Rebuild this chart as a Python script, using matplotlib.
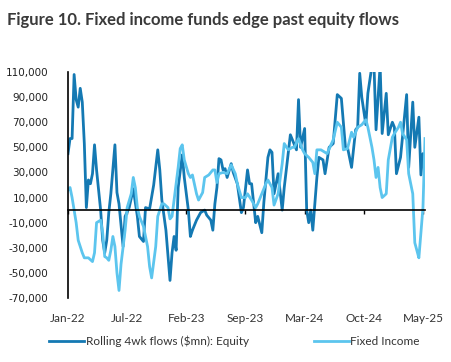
import matplotlib.pyplot as plt

# weekly fund flows, $mn (in thousands)
eq_weeks = [0, 1, 2, 3, 4, 5, 6, 7, 8, 9, 10, 11, 12, 13, 14, 16, 17, 18, 19, 20,
            21, 23, 24, 25, 27, 28, 30, 32, 34, 35, 37, 38, 40, 42, 43, 44, 45, 46, 48, 50,
            51, 52, 53, 54, 56, 57, 59, 60, 61, 63, 65, 66, 67, 68, 70, 71, 72, 73, 74, 75,
            76, 77, 78, 80, 81, 83, 85, 86, 88, 89, 90, 92, 93, 95, 96, 98, 99, 100, 101, 103,
            105, 106, 107, 109, 110, 112, 113, 114, 116, 117, 118, 119, 120, 122, 123, 125, 126, 128, 130, 132,
            134, 136, 137, 139, 141, 142, 143, 144, 146, 147, 149, 150, 151, 153, 154, 156, 157, 159, 160, 161,
            163, 166, 167, 169, 170, 172, 173, 174, 175]
equity_k = [45, 57, 57, 108, 88, 82, 97, 86, 53, 2, 24, 21, 29, 52, 32, 0, -24, -34, -24, -2,
            13, 52, 14, 5, -29, -5, 2, 17, -5, -21, -25, 2, 1, 20, 34, 48, 32, 8, -16, -56,
            -34, -21, -32, 18, 44, 26, 0, -21, -16, -8, -2, -1, 0, -4, -8, -16, 5, 18, 41, 40,
            32, 33, 26, 37, 30, 21, -2, 2, 32, 21, 21, -10, -5, -18, 6, 42, 48, 46, 13, 29,
            0, 18, 32, 60, 56, 48, 88, 50, 65, 0, -10, 0, -16, 26, 42, 40, 29, 50, 53, 92,
            89, 50, 50, 34, 64, 66, 109, 90, 68, 93, 115, 115, 64, 115, 61, 93, 60, 70, 66, 29,
            42, 92, 34, 86, 50, 74, 28, 45, 32]

fi_weeks = [0, 1, 2, 4, 5, 7, 8, 10, 12, 13, 14, 16, 17, 18, 19, 20, 21, 22, 23, 24,
            25, 26, 28, 29, 31, 32, 33, 34, 35, 37, 39, 40, 41, 43, 44, 46, 47, 49, 50, 51,
            52, 54, 55, 56, 57, 59, 60, 61, 63, 64, 66, 67, 69, 71, 72, 73, 74, 76, 78, 80,
            82, 83, 85, 87, 88, 90, 92, 93, 95, 97, 98, 100, 101, 103, 105, 106, 108, 110, 111, 113,
            115, 116, 118, 120, 121, 122, 124, 126, 127, 130, 132, 134, 135, 137, 139, 140, 142, 144, 146, 147,
            149, 150, 151, 152, 153, 154, 156, 157, 159, 160, 162, 163, 164, 166, 167, 169, 170, 171, 172, 174,
            175]
fixed_income_k = [16, 18, 10, -10, -24, -34, -38, -38, -41, -34, -10, -8, -18, -37, -38, -40, -32, -21, -29, -50,
                  -64, -43, -16, 2, 13, 26, 18, 2, -5, -13, -29, -45, -54, -29, -5, 5, 5, 2, -7, -5,
                  8, 34, 49, 52, 40, 29, 26, 28, 13, 8, 14, 26, 28, 32, 32, 22, 29, 30, 29, 36,
                  29, 21, 10, 10, 13, 8, 2, 5, 13, 21, 24, 18, 4, 13, 37, 53, 48, 50, 50, 57,
                  48, 45, 42, 38, 29, 48, 48, 46, 45, 56, 70, 66, 48, 49, 62, 58, 66, 68, 72, 66,
                  50, 40, 26, 34, 18, 10, 13, 40, 58, 61, 66, 70, 61, 56, 29, 13, -26, -32, -38, 2,
                  57]

tick_weeks = [0, 29, 58, 87, 116, 145, 174]
tick_labels = ["Jan-22", "Jul-22", "Feb-23", "Sep-23", "Mar-24", "Oct-24", "May-25"]
y_ticks = list(range(-70000, 110001, 20000))

DARK = "#1479b3"
LIGHT = "#5cc5ee"

equity = [v * 1000 for v in equity_k]
fixed_income = [v * 1000 for v in fixed_income_k]

fig = plt.figure(figsize=(4.52, 3.62), dpi=100)
ax = fig.add_axes([68 / 452, 1 - 298 / 362, 357 / 452, 226 / 362])

ax.plot(eq_weeks, equity, color=DARK, lw=2.0, label="Rolling 4wk flows ($mn): Equity")
ax.plot(fi_weeks, fixed_income, color=LIGHT, lw=2.0, label="Fixed Income")

ax.set_xlim(0, 175)
ax.set_ylim(-70000, 110000)
ax.set_yticks(y_ticks)
ax.set_yticklabels([f"{v:,}" for v in y_ticks], fontsize=7.5, color="#222222")
ax.tick_params(axis="y", length=0, pad=14)

# zero line carries the small ticks, labels sit at the bottom
for s in ["top", "right"]:
    ax.spines[s].set_visible(False)
ax.spines["bottom"].set_position(("data", 0))
ax.spines["bottom"].set_linewidth(1.2)
ax.spines["left"].set_linewidth(1.2)
ax.set_xticks(tick_weeks)
ax.tick_params(axis="x", length=3, width=1, labelbottom=False)

sec = ax.secondary_xaxis("bottom")
sec.set_xticks(tick_weeks)
sec.set_xticklabels(tick_labels, fontsize=8.5, color="#333333", family="Lato")
sec.tick_params(length=0, pad=11)
sec.spines["bottom"].set_visible(False)

leg = ax.legend(loc="center", bbox_to_anchor=(0.466, -0.19), ncol=2, frameon=False,
                handlelength=3.0, handletextpad=0.1, columnspacing=5.5,
                prop={"family": "Lato", "size": 8.5})
for t in leg.get_texts():
    t.set_color("#333333")

fig.text(0.015, 0.968, "Figure 10. Fixed income funds edge past equity flows",
         fontsize=12, fontweight="bold", family="Lato", color="#3a3a3a", va="top")

fig.savefig("out.png", dpi=100)
